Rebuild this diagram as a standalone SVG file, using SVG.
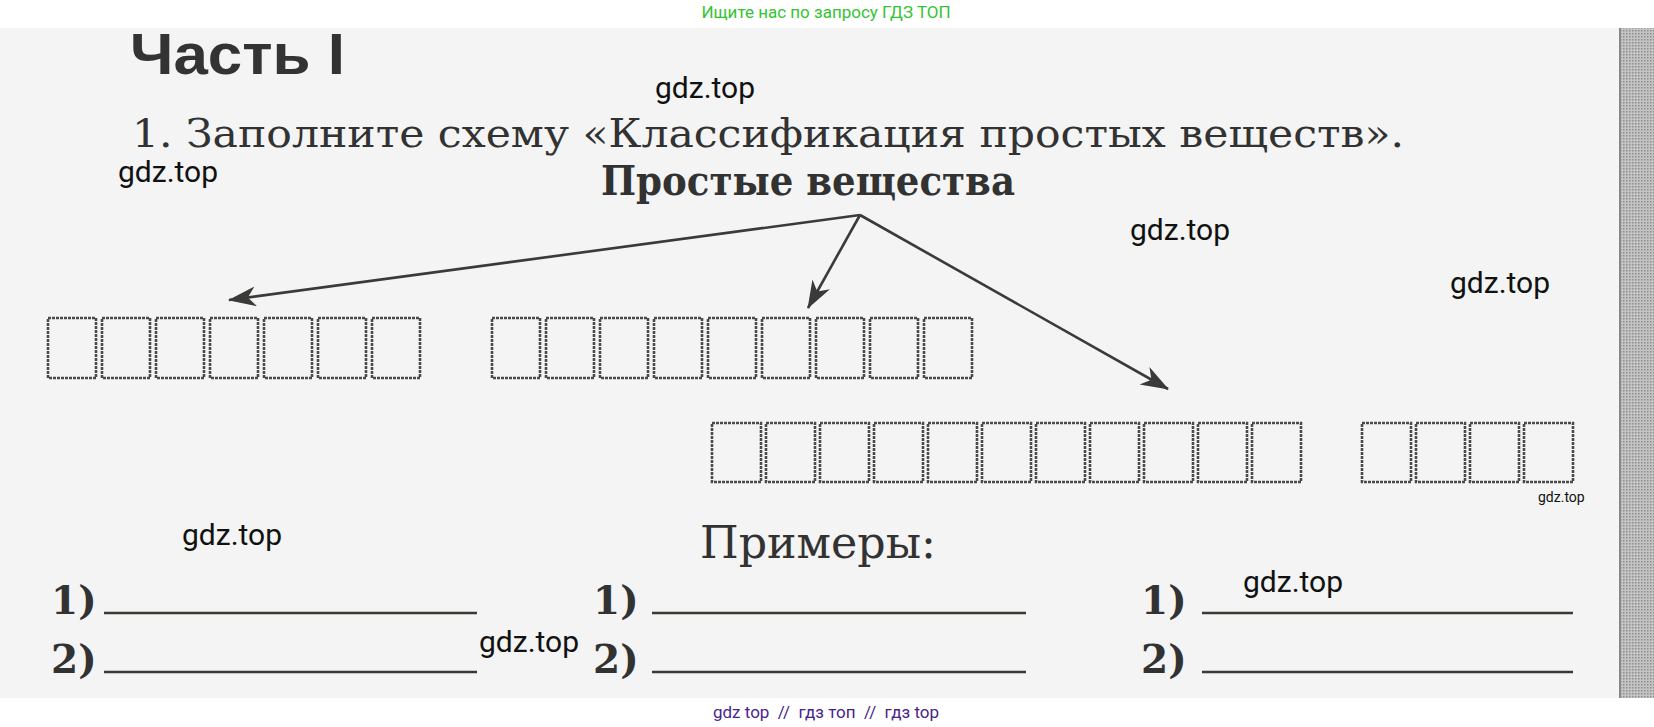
<svg xmlns="http://www.w3.org/2000/svg" width="1654" height="727" viewBox="0 0 1654 727">
<style>
.serif{font-family:"DejaVu Serif","Liberation Serif",serif;fill:#323232}
.wm{font-family:Roboto,"Liberation Sans",sans-serif;font-size:30px;fill:#111}
.box{fill:none;stroke:#4a4a4a;stroke-width:2.6;stroke-dasharray:3 1}
.conn{fill:none;stroke:#3a3a38;stroke-width:2.6}
.ans{stroke:#3a3a35;stroke-width:2.4}
</style>
<defs>
<marker id="ah" markerUnits="userSpaceOnUse" markerWidth="30" markerHeight="22" refX="27" refY="10" orient="auto">
<path d="M0,0 L28,10 L0,20 L8,10 Z" fill="#3a3a38"/>
</marker>
<pattern id="dots" width="3" height="3" patternUnits="userSpaceOnUse">
<rect width="3" height="3" fill="#c4c4c4"/>
<rect width="1.5" height="1.5" fill="#8e8e8e"/>
</pattern>
</defs>
<rect width="1654" height="727" fill="#ffffff"/>
<rect x="0" y="28" width="1620" height="670" fill="#f3f4f3"/>
<rect x="1620" y="28" width="34" height="670" fill="url(#dots)"/>
<line x1="1620" y1="28" x2="1620" y2="698" stroke="#888" stroke-width="2"/>

<text x="826" y="18" text-anchor="middle" font-family="Roboto,'Liberation Sans',sans-serif" font-size="17" fill="#33c433">Ищите нас по запросу ГДЗ ТОП</text>

<g id="title">
<text x="130" y="74" font-family="'Liberation Sans',Arial,sans-serif" font-weight="bold" font-size="57" fill="#333" textLength="215" lengthAdjust="spacingAndGlyphs">Часть I</text>
</g>
<g id="task">
<text class="serif" x="132" y="147" font-size="40" textLength="1272" lengthAdjust="spacingAndGlyphs">1. Заполните схему «Классификация простых веществ».</text>
</g>
<g id="root">
<text class="serif" x="601" y="195" font-size="41" font-weight="bold" textLength="414" lengthAdjust="spacingAndGlyphs">Простые вещества</text>
</g>

<g id="connectors">
<line class="conn" x1="860" y1="215" x2="229" y2="300" marker-end="url(#ah)"/>
<line class="conn" x1="860" y1="215" x2="808" y2="308" marker-end="url(#ah)"/>
<line class="conn" x1="860" y1="215" x2="1168" y2="389" marker-end="url(#ah)"/>
</g>

<g id="group1">
<rect class="box" x="48" y="318" width="48" height="60"/>
<rect class="box" x="102" y="318" width="48" height="60"/>
<rect class="box" x="156" y="318" width="48" height="60"/>
<rect class="box" x="210" y="318" width="48" height="60"/>
<rect class="box" x="264" y="318" width="48" height="60"/>
<rect class="box" x="318" y="318" width="48" height="60"/>
<rect class="box" x="372" y="318" width="48" height="60"/>
</g>
<g id="group2">
<rect class="box" x="492" y="318" width="48" height="60"/>
<rect class="box" x="546" y="318" width="48" height="60"/>
<rect class="box" x="600" y="318" width="48" height="60"/>
<rect class="box" x="654" y="318" width="48" height="60"/>
<rect class="box" x="708" y="318" width="48" height="60"/>
<rect class="box" x="762" y="318" width="48" height="60"/>
<rect class="box" x="816" y="318" width="48" height="60"/>
<rect class="box" x="870" y="318" width="48" height="60"/>
<rect class="box" x="924" y="318" width="48" height="60"/>
</g>
<g id="group3">
<rect class="box" x="712" y="423" width="49" height="59"/>
<rect class="box" x="766" y="423" width="49" height="59"/>
<rect class="box" x="820" y="423" width="49" height="59"/>
<rect class="box" x="874" y="423" width="49" height="59"/>
<rect class="box" x="928" y="423" width="49" height="59"/>
<rect class="box" x="982" y="423" width="49" height="59"/>
<rect class="box" x="1036" y="423" width="49" height="59"/>
<rect class="box" x="1090" y="423" width="49" height="59"/>
<rect class="box" x="1144" y="423" width="49" height="59"/>
<rect class="box" x="1198" y="423" width="49" height="59"/>
<rect class="box" x="1252" y="423" width="49" height="59"/>
</g>
<g id="group4">
<rect class="box" x="1362" y="423" width="49" height="59"/>
<rect class="box" x="1416" y="423" width="49" height="59"/>
<rect class="box" x="1470" y="423" width="49" height="59"/>
<rect class="box" x="1524" y="423" width="49" height="59"/>
</g>

<g id="examples">
<text class="serif" x="700" y="558" font-size="45" textLength="236" lengthAdjust="spacingAndGlyphs">Примеры:</text>
</g>
<g id="answers-left">
<text class="serif" x="51" y="614" font-size="39" font-weight="bold">1)</text>
<line class="ans" x1="104" y1="613" x2="477" y2="613"/>
<text class="serif" x="51" y="673" font-size="39" font-weight="bold">2)</text>
<line class="ans" x1="104" y1="672" x2="477" y2="672"/>
</g>
<g id="answers-middle">
<text class="serif" x="593" y="614" font-size="39" font-weight="bold">1)</text>
<line class="ans" x1="652" y1="613" x2="1026" y2="613"/>
<text class="serif" x="593" y="673" font-size="39" font-weight="bold">2)</text>
<line class="ans" x1="652" y1="672" x2="1026" y2="672"/>
</g>
<g id="answers-right">
<text class="serif" x="1141" y="614" font-size="39" font-weight="bold">1)</text>
<line class="ans" x1="1202" y1="613" x2="1573" y2="613"/>
<text class="serif" x="1141" y="673" font-size="39" font-weight="bold">2)</text>
<line class="ans" x1="1202" y1="672" x2="1573" y2="672"/>
</g>

<g id="watermarks">
<text class="wm" x="655" y="98">gdz.top</text>
<text class="wm" x="118" y="182">gdz.top</text>
<text class="wm" x="1130" y="240">gdz.top</text>
<text class="wm" x="1450" y="293">gdz.top</text>
<text class="wm" x="182" y="545">gdz.top</text>
<text class="wm" x="479" y="652">gdz.top</text>
<text class="wm" x="1243" y="592">gdz.top</text>
<text class="wm" x="1538" y="502" style="font-size:14px">gdz.top</text>
</g>
<text x="826" y="718" text-anchor="middle" xml:space="preserve" font-family="Roboto,'Liberation Sans',sans-serif" font-size="17" fill="#4a1f8c">gdz top  //  гдз топ  //  гдз top</text>
</svg>
